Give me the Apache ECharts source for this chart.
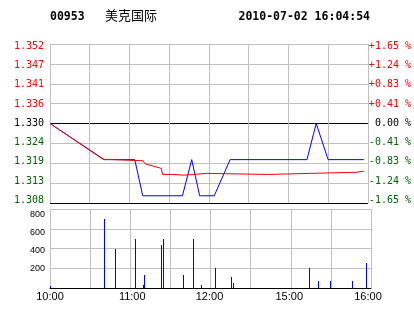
<!DOCTYPE html>
<html><head><meta charset="utf-8">
<script src="https://cdn.jsdelivr.net/npm/echarts@6/dist/echarts.min.js"></script>
<style>html,body{margin:0;padding:0;background:#fff}#c{width:414px;height:314px}</style>
</head><body><div id="c"></div>
<script>
// ---------- data ----------
const stockCode = '00953';
const stockName = '美克国际';
const stamp = '2010-07-02 16:04:54';
const prevClose = 1.330;

const priceTimes  = ['10:00','10:41','11:04','11:10','11:40','11:47','11:53','12:04','12:16','15:14','15:21','15:30','15:57'];
const priceValues = [1.330, 1.320, 1.320, 1.310, 1.310, 1.320, 1.310, 1.310, 1.320, 1.320, 1.330, 1.320, 1.320];

const avgTimes  = ['10:00','10:40','10:41','11:10','11:12','11:24','11:25','11:33','11:34','11:41','11:42','11:58','11:59','14:45','14:46','15:17','15:18','15:51','15:52','15:57'];
const avgValues = [1.3300, 1.3201, 1.3199, 1.3197, 1.3188, 1.3176, 1.3159, 1.3159, 1.3157, 1.3157, 1.3162, 1.3162, 1.3159, 1.3159, 1.3162, 1.3162, 1.3165, 1.3165, 1.3168, 1.3168];

const volTimes  = ['10:00','10:41','10:49','11:04','11:10','11:11','11:23','11:25','11:40','11:47','11:53','12:04','12:16','12:17','15:14','15:21','15:30','15:46','15:57'];
const volValues = [25, 700, 400, 500, 35, 135, 440, 500, 135, 500, 35, 200, 115, 55, 200, 75, 75, 75, 250];

const priceLabels = ['1.308','1.313','1.319','1.324','1.330','1.336','1.341','1.347','1.352'];
const pctLabels   = ['-1.65 %','-1.24 %','-0.83 %','-0.41 %',' 0.00 %','+0.41 %','+0.83 %','+1.24 %','+1.65 %'];
const volLabels   = ['', '200', '400', '600', '800'];
const timeLabels  = ['10:00','','11:00','','12:00','','15:00','','16:00'];

const priceMin = 1.308, priceMax = 1.352, priceStep = 0.0055;
const volMax = 800, volStep = 200;
const sessionMinutes = 240, timeStep = 30;

// ---------- helpers ----------
function tradeIndex(t) {
  const [h, m] = t.split(':').map(Number);
  const mins = h * 60 + m;
  if (h >= 14) return 150 + (mins - (14 * 60 + 30));
  return mins - 600;
}
const pair = (ts, vs) => ts.map((t, i) => [tradeIndex(t), vs[i]]);

const GRAY = '#c0c0c0', RED = '#ff0000', GREEN = '#006400', BLUE = '#0000ff';
const MONO = '"DejaVu Sans Mono", monospace';
const SANS = '"Liberation Sans", Arial, sans-serif';

function labelColor(i) { return i < 4 ? GREEN : (i === 4 ? '#000' : RED); }
function vPad(o) { const p = Math.round(Math.abs(o) * 2); return o > 0 ? [p, 0, 0, 0] : [0, 0, p, 0]; }

const priceRich = {}, pctRich = {}, volRich = {}, timeRich = {};
priceLabels.forEach((_, i) => {
  const off = -2.9 + 0.67 * i;
  priceRich['p' + i] = { color: labelColor(i), fontFamily: MONO, fontSize: 10, padding: vPad(off) };
  pctRich['q' + i]   = { color: labelColor(i), fontFamily: MONO, fontSize: 10, padding: vPad(off) };
});
const volOff = [0, 0.5, 2.5, 3.7, 5.5];
volLabels.forEach((_, i) => { volRich['v' + i] = { color: '#000', fontFamily: SANS, fontSize: 9, padding: vPad(volOff[i]) }; });
const timeOff = [0, 0, 2, 0, -1, 0, -1.5, 0, -3];
timeLabels.forEach((_, i) => {
  const p = Math.round(Math.abs(timeOff[i]) * 2);
  timeRich['t' + i] = { color: '#000', fontFamily: SANS, fontSize: 11, padding: timeOff[i] > 0 ? [0, 0, 0, p] : [0, p, 0, 0] };
});

const chart = echarts.init(document.getElementById('c'), null, { renderer: 'canvas' });
const hSplitColors = priceLabels.map((_, i) => (i === 0 || i === 4) ? '#000' : GRAY);
const vSplitColors = volLabels.map((_, i) => i === 0 ? '#000' : GRAY);

chart.setOption({
  animation: false,
  backgroundColor: '#fff',
  graphic: [
    { type: 'text', style: { x: 50, y: 17, text: stockCode, font: 'bold 11.5px ' + MONO, fill: '#000', verticalAlign: 'middle' } },
    { type: 'text', style: { x: 105, y: 15, text: stockName, font: '13px "Noto Sans CJK SC"', fill: '#000', verticalAlign: 'middle' } },
    { type: 'text', style: { x: 370, y: 17, text: stamp, font: 'bold 11.5px ' + MONO, fill: '#000', align: 'right', verticalAlign: 'middle' } }
  ],
  grid: [
    { left: 50, top: 44, width: 321, height: 159 },
    { left: 50, top: 209, width: 321, height: 79 }
  ],
  xAxis: [
    { type: 'value', gridIndex: 0, min: 0, max: sessionMinutes, interval: timeStep,
      axisLine: { show: false }, axisTick: { show: false }, axisLabel: { show: false },
      splitLine: { show: true, lineStyle: { color: GRAY, width: 1 } } },
    { type: 'value', gridIndex: 1, min: 0, max: sessionMinutes, interval: timeStep,
      axisLine: { show: true, lineStyle: { color: '#000', width: 1 } }, axisTick: { show: false },
      axisLabel: { show: true, margin: 3, formatter: (v, i) => timeLabels[i] ? `{t${i}|${timeLabels[i]}}` : '', rich: timeRich },
      splitLine: { show: true, lineStyle: { color: GRAY, width: 1 } } }
  ],
  yAxis: [
    { type: 'value', gridIndex: 0, min: priceMin, max: priceMax, interval: priceStep,
      axisLine: { show: false }, axisTick: { show: false },
      axisLabel: { margin: 6, formatter: (v, i) => `{p${i}|${priceLabels[i]}}`, rich: priceRich },
      splitLine: { show: true, lineStyle: { color: hSplitColors, width: 1 } } },
    { type: 'value', gridIndex: 0, position: 'right', min: priceMin, max: priceMax, interval: priceStep,
      axisLine: { show: false }, axisTick: { show: false },
      axisLabel: { margin: 1, align: 'left', formatter: (v, i) => `{q${i}|${pctLabels[i]}}`, rich: pctRich },
      splitLine: { show: false } },
    { type: 'value', gridIndex: 1, min: 0, max: volMax, interval: volStep,
      axisLine: { show: false }, axisTick: { show: false },
      axisLabel: { margin: 5, formatter: (v, i) => volLabels[i] ? `{v${i}|${volLabels[i]}}` : '', rich: volRich },
      splitLine: { show: true, lineStyle: { color: vSplitColors, width: 1 } } }
  ],
  series: [
    { name: 'price', type: 'line', xAxisIndex: 0, yAxisIndex: 0, data: pair(priceTimes, priceValues),
      showSymbol: false, symbol: 'none', lineStyle: { color: BLUE, width: 1 }, z: 3 },
    { name: 'avg', type: 'line', xAxisIndex: 0, yAxisIndex: 0, data: pair(avgTimes, avgValues),
      showSymbol: false, symbol: 'none', lineStyle: { color: RED, width: 1 }, z: 4 },
    { name: 'volume', type: 'custom', xAxisIndex: 1, yAxisIndex: 2, data: pair(volTimes, volValues),
      encode: { x: 0, y: 1 }, z: 3,
      renderItem: (params, api) => {
        const top = api.coord([api.value(0), api.value(1)]);
        const base = api.coord([api.value(0), 0]);
        const x = Math.floor(top[0]);
        return { type: 'rect', shape: { x: x, y: Math.round(top[1]), width: 1, height: Math.round(base[1]) - Math.round(top[1]) },
                 style: { fill: BLUE } };
      } }
  ]
});
</script></body></html>
